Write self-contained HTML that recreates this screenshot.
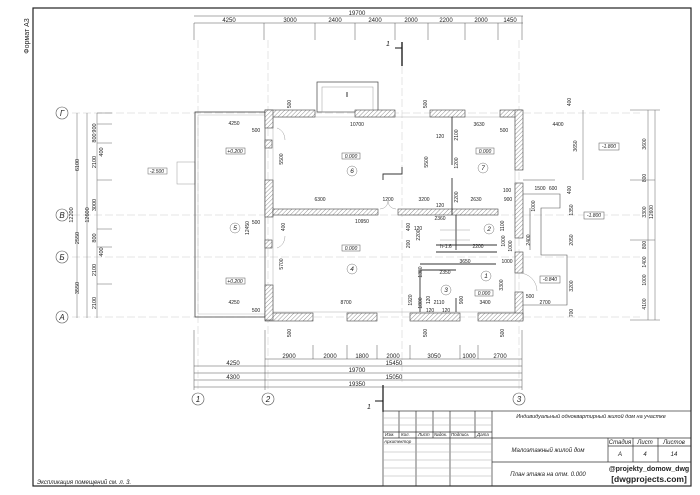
<!DOCTYPE html>
<html><head><meta charset="utf-8"><style>
html,body{margin:0;padding:0;background:#fff}
svg{display:block}
text{font-family:"Liberation Sans",sans-serif;fill:#222}
.s{font-size:6px}
.i{font-style:italic}
</style></head><body>
<svg width="700" height="495" viewBox="0 0 700 495" xmlns="http://www.w3.org/2000/svg">
<defs>
<pattern id="h" width="3" height="3" patternUnits="userSpaceOnUse" patternTransform="rotate(45)">
<rect width="3" height="3" fill="#fff"/><line x1="0" y1="0" x2="0" y2="3" stroke="#777" stroke-width="0.8"/>
</pattern>
</defs>
<rect x="0" y="0" width="700" height="495" fill="#fff"/>
<rect x="33" y="8" width="658" height="478" fill="none" stroke="#222" stroke-width="1.2"/>
<text x="29" y="36" font-size="7" transform="rotate(-90 29 36)" text-anchor="middle">Формат А3</text>

<g stroke="#ccc" stroke-width="0.5" stroke-dasharray="8,3">
<line x1="72" y1="113" x2="640" y2="113"/>
<line x1="72" y1="215" x2="640" y2="215"/>
<line x1="72" y1="257" x2="640" y2="257"/>
<line x1="72" y1="317" x2="640" y2="317"/>
<line x1="198" y1="40" x2="198" y2="390"/>
<line x1="268" y1="40" x2="268" y2="390"/>
<line x1="402" y1="66" x2="402" y2="385"/>
<line x1="519" y1="40" x2="519" y2="390"/>
</g>

<g stroke="#555" stroke-width="0.5" fill="none">
<line x1="194" y1="16" x2="523" y2="16"/>
<line x1="194" y1="23" x2="523" y2="23"/>
<line x1="194" y1="23" x2="194" y2="40"/><line x1="264" y1="23" x2="264" y2="40"/><line x1="315" y1="23" x2="315" y2="40"/><line x1="355" y1="23" x2="355" y2="40"/><line x1="395" y1="23" x2="395" y2="40"/><line x1="428" y1="23" x2="428" y2="40"/><line x1="465" y1="23" x2="465" y2="40"/><line x1="498" y1="23" x2="498" y2="40"/><line x1="522" y1="16" x2="522" y2="40"/>
</g>
<g class="s" text-anchor="middle">
<text x="357" y="15">19700</text>
<text x="229" y="22">4250</text><text x="290" y="22">3000</text><text x="335" y="22">2400</text><text x="375" y="22">2400</text><text x="411" y="22">2000</text><text x="446" y="22">2200</text><text x="481" y="22">2000</text><text x="510" y="22">1450</text>
</g>
<line x1="402" y1="42" x2="402" y2="66" stroke="#111" stroke-width="1.3"/>
<line x1="395" y1="48" x2="402" y2="48" stroke="#111" stroke-width="1"/>
<text x="386" y="46" font-size="7" class="i">1</text>
<rect x="317" y="82" width="61" height="30" fill="none" stroke="#444" stroke-width="0.7"/>
<rect x="322" y="87" width="51" height="25" fill="none" stroke="#999" stroke-width="0.5"/>
<line x1="347" y1="92" x2="347" y2="97" stroke="#333" stroke-width="1"/>

<g stroke="#666" stroke-width="0.5">
<line x1="77" y1="113" x2="77" y2="318"/><line x1="87" y1="113" x2="87" y2="318"/><line x1="97" y1="113" x2="97" y2="318"/>
<line x1="97" y1="113" x2="112" y2="113"/><line x1="97" y1="124" x2="112" y2="124"/><line x1="97" y1="143" x2="112" y2="143"/><line x1="97" y1="180" x2="112" y2="180"/><line x1="97" y1="229" x2="112" y2="229"/><line x1="97" y1="247" x2="112" y2="247"/><line x1="97" y1="284" x2="112" y2="284"/>
</g>
<g font-size="5.5" text-anchor="middle">
<text transform="translate(79,165) rotate(-90)">6100</text>
<text transform="translate(79,238) rotate(-90)">2550</text>
<text transform="translate(79,288) rotate(-90)">3550</text>
<text transform="translate(73,215) rotate(-90)">12200</text>
<text transform="translate(89,215) rotate(-90)">12600</text>
<text transform="translate(96,128) rotate(-90)">900</text>
<text transform="translate(96,138) rotate(-90)">800</text>
<text transform="translate(96,162) rotate(-90)">2100</text>
<text transform="translate(96,205) rotate(-90)">3000</text>
<text transform="translate(96,238) rotate(-90)">800</text>
<text transform="translate(96,270) rotate(-90)">2100</text>
<text transform="translate(96,303) rotate(-90)">2100</text>
<text transform="translate(103,152) rotate(-90)">400</text>
<text transform="translate(103,252) rotate(-90)">400</text>
</g>
<g fill="#fff" stroke="#555" stroke-width="0.6">
<circle cx="62" cy="113" r="6"/><circle cx="62" cy="215" r="6"/><circle cx="62" cy="257" r="6"/><circle cx="62" cy="317" r="6"/>
<circle cx="198" cy="399" r="6"/><circle cx="268" cy="399" r="6"/><circle cx="519" cy="399" r="6"/>
</g>
<g font-size="8" class="i" text-anchor="middle">
<text x="62" y="116">Г</text><text x="62" y="218">В</text><text x="62" y="260">Б</text><text x="62" y="320">А</text>
<text x="198" y="402">1</text><text x="268" y="402">2</text><text x="519" y="402">3</text>
</g>
<rect x="148" y="168" width="19" height="6" fill="none" stroke="#666" stroke-width="0.5"/><text x="157" y="173" font-size="5" text-anchor="middle" class="i">-2.500</text>
<rect x="177" y="162" width="18" height="22" fill="none" stroke="#999" stroke-width="0.5"/>

<rect x="195" y="112" width="70" height="205" fill="none" stroke="#444" stroke-width="0.8"/>
<rect x="198" y="115" width="67" height="199" fill="none" stroke="#aaa" stroke-width="0.4"/>

<rect x="273" y="117" width="242" height="195" fill="none" stroke="#999" stroke-width="0.4"/>
<g fill="url(#h)" stroke="#444" stroke-width="0.6">
<rect x="265" y="110" width="50" height="7"/><rect x="355" y="110" width="40" height="7"/><rect x="430" y="110" width="35" height="7"/><rect x="500" y="110" width="22" height="7"/>
<rect x="515" y="110" width="8" height="60"/><rect x="515" y="183" width="8" height="55"/><rect x="515" y="252" width="8" height="21"/><rect x="515" y="292" width="8" height="28"/>
<rect x="265" y="313" width="48" height="8"/><rect x="347" y="313" width="30" height="8"/><rect x="410" y="313" width="50" height="8"/><rect x="478" y="313" width="45" height="8"/>
<rect x="265" y="110" width="8" height="18"/><rect x="265" y="140" width="7" height="8"/><rect x="265" y="180" width="8" height="37"/><rect x="265" y="240" width="7" height="8"/><rect x="265" y="285" width="8" height="35"/>
<rect x="273" y="209" width="105" height="6"/><rect x="398" y="209" width="100" height="6"/>
</g>
<g stroke="#333" stroke-width="0.9" fill="none">
<line x1="452" y1="117" x2="452" y2="165"/><line x1="452" y1="178" x2="452" y2="215"/>
<line x1="456" y1="215" x2="456" y2="250"/><line x1="436" y1="245" x2="497" y2="245"/><line x1="436" y1="252" x2="497" y2="252"/>
<line x1="420" y1="264" x2="496" y2="264"/>
<polyline points="420,312 420,270 456,270"/><line x1="456" y1="298" x2="456" y2="312"/>
<polyline points="383,180 383,174 402,174 402,167"/>
</g>
<g stroke="#555" stroke-width="0.6" fill="none">
<polyline points="523,194 560,194 560,208 541,208 541,255 567,255 567,305 523,305"/>
<line x1="530" y1="208" x2="530" y2="250"/>
<line x1="523" y1="180" x2="555" y2="180"/>
</g>
<g stroke="#888" stroke-width="0.4" fill="none">
<line x1="440" y1="240" x2="470" y2="240"/><line x1="440" y1="230" x2="470" y2="230"/>
<path d="M277,128 A12,12 0 0 1 285,140"/><path d="M277,248 A12,12 0 0 0 285,236"/><path d="M519,273 A18,18 0 0 1 537,291"/>
<path d="M380,209 A8,8 0 0 0 388,201"/><path d="M396,209 A8,8 0 0 1 388,201"/>
</g>

<g font-size="5" text-anchor="middle" class="i">
<rect x="226" y="148" width="19" height="6" fill="#fff" stroke="#555" stroke-width="0.5"/><text x="235" y="153">+0.200</text>
<rect x="226" y="278" width="19" height="6" fill="#fff" stroke="#555" stroke-width="0.5"/><text x="235" y="283">+0.200</text>
<rect x="342" y="153" width="18" height="6" fill="#fff" stroke="#555" stroke-width="0.5"/><text x="351" y="158">0.000</text>
<rect x="342" y="245" width="18" height="6" fill="#fff" stroke="#555" stroke-width="0.5"/><text x="351" y="250">0.000</text>
<rect x="476" y="148" width="18" height="6" fill="#fff" stroke="#555" stroke-width="0.5"/><text x="485" y="153">0.000</text>
<rect x="475" y="290" width="18" height="6" fill="#fff" stroke="#555" stroke-width="0.5"/><text x="484" y="295">0.000</text>
<rect x="599" y="143" width="20" height="7" fill="#fff" stroke="#555" stroke-width="0.5"/><text x="609" y="148">-1.800</text>
<rect x="584" y="212" width="20" height="7" fill="#fff" stroke="#555" stroke-width="0.5"/><text x="594" y="217">-1.800</text>
<rect x="540" y="276" width="20" height="7" fill="#fff" stroke="#555" stroke-width="0.5"/><text x="550" y="281">-0.840</text>
</g>
<g fill="none" stroke="#777" stroke-width="0.5">
<circle cx="235" cy="228" r="5"/><circle cx="352" cy="171" r="5"/><circle cx="352" cy="269" r="5"/><circle cx="483" cy="168" r="5"/><circle cx="486" cy="276" r="5"/><circle cx="446" cy="290" r="5"/><circle cx="489" cy="229" r="5"/>
</g>
<g font-size="6.5" class="i" text-anchor="middle">
<text x="235" y="230">5</text><text x="352" y="173">6</text><text x="352" y="271">4</text><text x="483" y="170">7</text><text x="486" y="278">1</text><text x="446" y="292">3</text><text x="489" y="231">2</text>
</g>
<g font-size="5" text-anchor="middle">
<text x="234" y="125">4250</text><text x="234" y="304">4250</text><text x="256" y="132">500</text><text x="256" y="224">500</text><text x="256" y="312">500</text>
<text x="357" y="126">10700</text><text x="479" y="126">3630</text><text x="504" y="132">500</text>
<text x="320" y="201">6300</text><text x="388" y="201">1200</text><text x="424" y="201">3200</text><text x="476" y="201">2630</text><text x="507" y="192">100</text><text x="508" y="201">900</text>
<text x="362" y="223">10950</text><text x="418" y="230">120</text><text x="440" y="220">2360</text><text x="478" y="248">2200</text><text x="446" y="248">h-1.6</text>
<text x="465" y="263">3650</text><text x="507" y="263">1000</text><text x="445" y="274">2350</text>
<text x="346" y="304">8700</text><text x="439" y="304">2110</text><text x="485" y="304">3400</text><text x="530" y="298">500</text><text x="545" y="304">2700</text>
<text x="430" y="312">120</text><text x="446" y="312">120</text><text x="440" y="138">120</text><text x="440" y="207">120</text>
<text x="558" y="126">4400</text><text x="540" y="190">1500</text><text x="553" y="190">600</text>
</g>
<g font-size="5" text-anchor="middle">
<text transform="translate(283,159) rotate(-90)">5500</text>
<text transform="translate(283,264) rotate(-90)">5700</text>
<text transform="translate(285,227) rotate(-90)">400</text>
<text transform="translate(249,228) rotate(-90)">12450</text>
<text transform="translate(428,162) rotate(-90)">5500</text>
<text transform="translate(458,135) rotate(-90)">2100</text>
<text transform="translate(458,163) rotate(-90)">1200</text>
<text transform="translate(458,197) rotate(-90)">2200</text>
<text transform="translate(420,235) rotate(-90)">2200</text>
<text transform="translate(410,244) rotate(-90)">200</text>
<text transform="translate(410,227) rotate(-90)">400</text>
<text transform="translate(422,272) rotate(-90)">1380</text>
<text transform="translate(412,300) rotate(-90)">1920</text>
<text transform="translate(422,303) rotate(-90)">1800</text>
<text transform="translate(430,300) rotate(-90)">120</text>
<text transform="translate(463,300) rotate(-90)">900</text>
<text transform="translate(503,285) rotate(-90)">3300</text>
<text transform="translate(512,246) rotate(-90)">1000</text>
<text transform="translate(505,241) rotate(-90)">1000</text>
<text transform="translate(504,226) rotate(-90)">1100</text>
<text transform="translate(535,206) rotate(-90)">1000</text>
<text transform="translate(530,240) rotate(-90)">2400</text>
<text transform="translate(577,146) rotate(-90)">3650</text>
<text transform="translate(571,190) rotate(-90)">400</text>
<text transform="translate(571,102) rotate(-90)">400</text>
<text transform="translate(573,210) rotate(-90)">1350</text>
<text transform="translate(573,240) rotate(-90)">2050</text>
<text transform="translate(573,286) rotate(-90)">3200</text>
<text transform="translate(573,313) rotate(-90)">700</text>
<text transform="translate(291,104) rotate(-90)">500</text>
<text transform="translate(427,104) rotate(-90)">500</text>
<text transform="translate(291,333) rotate(-90)">500</text>
<text transform="translate(427,333) rotate(-90)">500</text>
<text transform="translate(504,333) rotate(-90)">500</text>
</g>
<g stroke="#666" stroke-width="0.5">
<line x1="648" y1="110" x2="648" y2="320"/><line x1="655" y1="110" x2="655" y2="320"/>
<line x1="630" y1="110" x2="660" y2="110"/><line x1="630" y1="180" x2="655" y2="180"/><line x1="630" y1="240" x2="655" y2="240"/><line x1="630" y1="320" x2="660" y2="320"/>
<line x1="583" y1="110" x2="583" y2="180"/>
</g>
<g font-size="5" text-anchor="middle">
<text transform="translate(646,144) rotate(-90)">3600</text>
<text transform="translate(646,178) rotate(-90)">800</text>
<text transform="translate(646,212) rotate(-90)">3300</text>
<text transform="translate(653,212) rotate(-90)">12600</text>
<text transform="translate(646,245) rotate(-90)">800</text>
<text transform="translate(646,262) rotate(-90)">1400</text>
<text transform="translate(646,280) rotate(-90)">1000</text>
<text transform="translate(646,304) rotate(-90)">4100</text>
</g>

<g stroke="#555" stroke-width="0.5">
<line x1="265" y1="359" x2="522" y2="359"/><line x1="194" y1="366" x2="522" y2="366"/><line x1="194" y1="373" x2="522" y2="373"/><line x1="194" y1="380" x2="522" y2="380"/><line x1="194" y1="387" x2="522" y2="387"/>
<line x1="194" y1="330" x2="194" y2="390"/><line x1="265" y1="330" x2="265" y2="390"/><line x1="522" y1="330" x2="522" y2="390"/>
<line x1="313" y1="345" x2="313" y2="359"/><line x1="347" y1="345" x2="347" y2="359"/><line x1="377" y1="345" x2="377" y2="359"/><line x1="410" y1="345" x2="410" y2="359"/><line x1="460" y1="345" x2="460" y2="359"/><line x1="478" y1="345" x2="478" y2="359"/>
</g>
<g class="s" text-anchor="middle">
<text x="289" y="358">2900</text><text x="330" y="358">2000</text><text x="362" y="358">1800</text><text x="393" y="358">2000</text><text x="434" y="358">3050</text><text x="469" y="358">1000</text><text x="500" y="358">2700</text>
<text x="233" y="365">4250</text><text x="394" y="365">15450</text>
<text x="357" y="372">19700</text>
<text x="233" y="379">4300</text><text x="394" y="379">15050</text>
<text x="357" y="386">19350</text>
</g>
<line x1="383" y1="385" x2="383" y2="412" stroke="#111" stroke-width="1.2"/>
<line x1="375" y1="401" x2="383" y2="401" stroke="#111" stroke-width="1"/>
<text x="367" y="409" font-size="7" class="i">1</text>

<g stroke="#333" stroke-width="0.7" fill="none">
<rect x="383" y="411" width="308" height="75"/>
<line x1="492" y1="411" x2="492" y2="486"/>
<line x1="492" y1="438" x2="691" y2="438"/><line x1="492" y1="462" x2="691" y2="462"/>
<line x1="608" y1="438" x2="608" y2="462"/><line x1="633" y1="438" x2="633" y2="462"/><line x1="658" y1="438" x2="658" y2="462"/>
<line x1="608" y1="446" x2="691" y2="446"/>
<line x1="383" y1="432" x2="492" y2="432"/><line x1="383" y1="438" x2="492" y2="438"/>
<line x1="399" y1="411" x2="399" y2="438"/><line x1="416" y1="411" x2="416" y2="438"/><line x1="433" y1="411" x2="433" y2="438"/><line x1="450" y1="411" x2="450" y2="486"/><line x1="475" y1="411" x2="475" y2="438"/>
<line x1="416" y1="438" x2="416" y2="486"/>
</g>
<g stroke="#aaa" stroke-width="0.5">
<line x1="383" y1="418" x2="492" y2="418"/><line x1="383" y1="425" x2="492" y2="425"/>
<line x1="383" y1="444" x2="492" y2="444"/><line x1="383" y1="452" x2="492" y2="452"/><line x1="383" y1="460" x2="492" y2="460"/><line x1="383" y1="468" x2="492" y2="468"/><line x1="383" y1="476" x2="492" y2="476"/>
</g>
<g font-size="4.5" class="i">
<text x="385" y="436">Изм.</text><text x="401" y="436">Кол.</text><text x="418" y="436">Лист</text><text x="434" y="436">№док.</text><text x="451" y="436">Подпись</text><text x="477" y="436">Дата</text>
<text x="384" y="443">Архитектор</text>
</g>
<text x="591" y="418" font-size="5.5" class="i" text-anchor="middle">Индивидуальный одноквартирный жилой дом на участке</text>
<text x="548" y="452" font-size="6" class="i" text-anchor="middle">Малоэтажный жилой дом</text>
<text x="548" y="476" font-size="6" class="i" text-anchor="middle">План этажа на отм. 0.000</text>
<g font-size="6" class="i" text-anchor="middle">
<text x="620" y="444">Стадия</text><text x="645" y="444">Лист</text><text x="674" y="444">Листов</text>
<text x="620" y="456">А</text><text x="645" y="456">4</text><text x="674" y="456">14</text>
</g>
<text x="649" y="471" font-size="7" font-weight="bold" text-anchor="middle">@projekty_domow_dwg</text>
<text x="649" y="482" font-size="8.5" font-weight="bold" text-anchor="middle">[dwgprojects.com]</text>
<text x="37" y="484" font-size="6" class="i">Экспликация помещений см. л. 3.</text>
</svg>
</body></html>
